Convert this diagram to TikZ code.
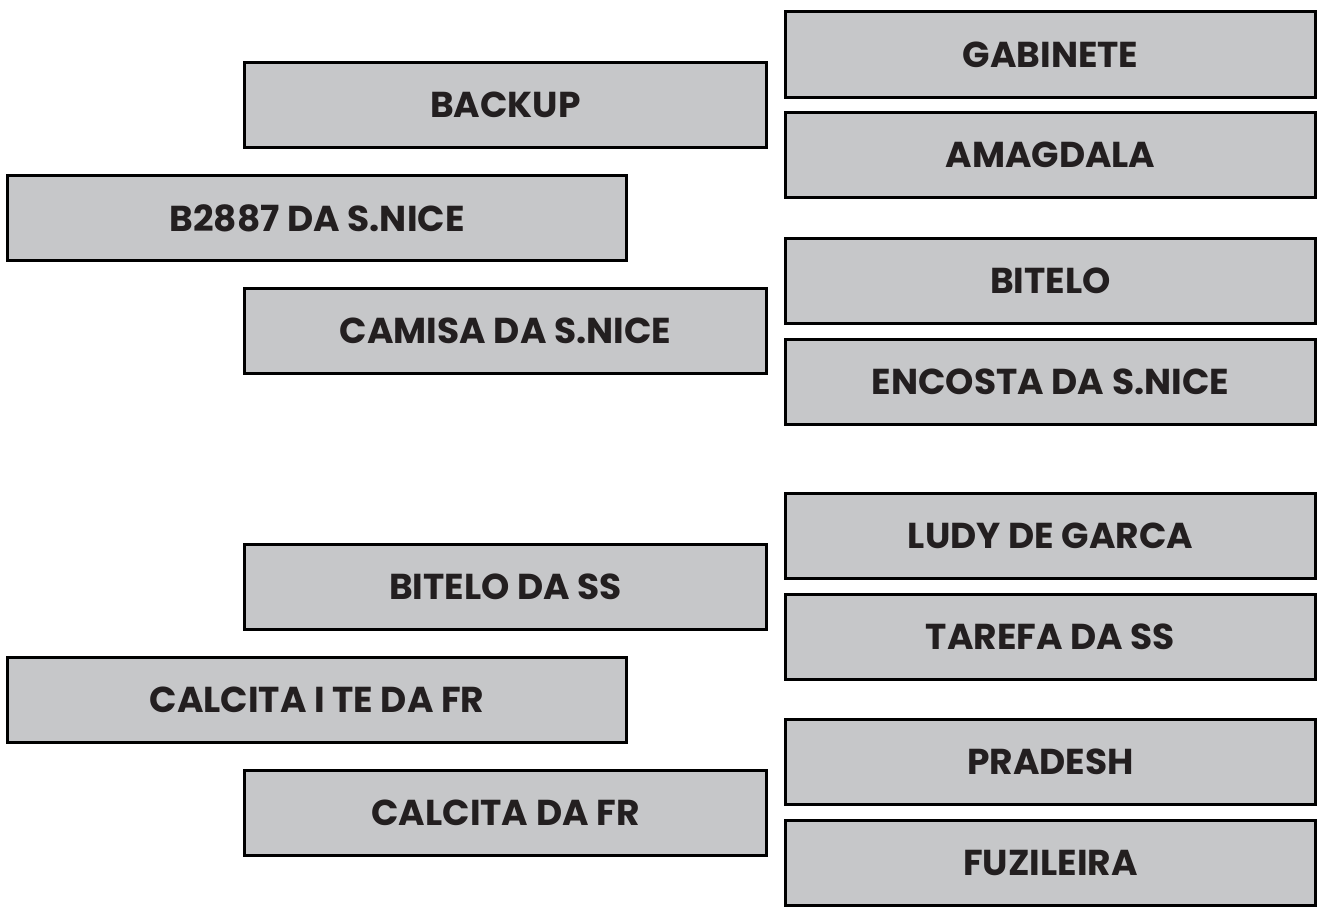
\documentclass[tikz,border=0pt]{standalone}
\usepackage{fontspec}
\setmainfont{Poppins}
\definecolor{boxgray}{HTML}{C6C7C9}
\definecolor{textdark}{HTML}{231F20}
\begin{document}
\begin{tikzpicture}[x=1pt,y=-1pt]
\tikzset{
  box/.style={draw=black, line width=3pt, fill=boxgray, text=textdark,
    font=\fontsize{36}{40}\selectfont\bfseries, inner sep=0pt,
    minimum height=85pt},
  midbox/.style={box, minimum width=522pt},
  leftbox/.style={box, minimum width=619pt},
  rightbox/.style={box, minimum width=530pt}
}
\useasboundingbox (0,0) rectangle (1319,907);
% left column
\node[midbox]  (backup)  at (505.5,105) {BACKUP};
\node[leftbox] (b2887)   at (317,218)   {B2887 DA S.NICE};
\node[midbox]  (camisa)  at (505.5,331) {CAMISA DA S.NICE};
\node[midbox]  (bitss)   at (505.5,587) {BITELO DA SS};
\node[leftbox] (calcte)  at (317,700)   {CALCITA I TE DA FR};
\node[midbox]  (calcfr)  at (505.5,813) {CALCITA DA FR};
% right column
\node[rightbox] (gab)   at (1050.5,54.5) {GABINETE};
\node[rightbox] (amag)  at (1050.5,155)  {AMAGDALA};
\node[rightbox] (bit)   at (1050.5,281)  {BITELO};
\node[rightbox] (enc)   at (1050.5,382)  {ENCOSTA DA S.NICE};
\node[rightbox] (ludy)  at (1050.5,536)  {LUDY DE GARCA};
\node[rightbox] (tar)   at (1050.5,637)  {TAREFA DA SS};
\node[rightbox] (prad)  at (1050.5,762)  {PRADESH};
\node[rightbox] (fuz)   at (1050.5,863)  {FUZILEIRA};
\end{tikzpicture}
\end{document}
